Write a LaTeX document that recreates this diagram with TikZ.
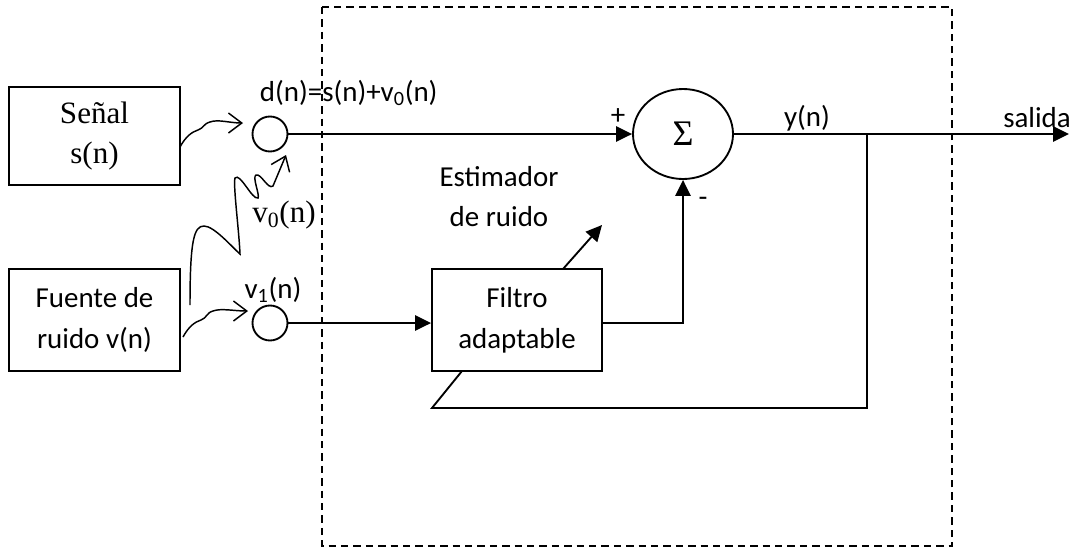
\documentclass[tikz,border=0pt]{standalone}
\usepackage{fontspec}
\setmainfont{Carlito}
\newfontfamily\serifrm{Liberation Serif}
\usetikzlibrary{arrows.meta,shapes.geometric}

\tikzset{
  bloque/.style={draw,inner sep=0pt,align=center,font=\fontsize{21.7}{30.5}\selectfont},
  nodo/.style={draw,circle,inner sep=0pt,minimum size=26.25pt},
  etiq/.style={inner sep=0pt,font=\fontsize{21.7}{30}\selectfont},
  ondas/.style={-{Straight Barb[length=10pt,width=15pt]},line width=1.1pt},
}

\begin{document}
\begin{tikzpicture}[x=0.75pt,y=-0.75pt,line width=1.4pt,>={Triangle[length=12pt,width=11.5pt]}]
\useasboundingbox (0,0) rectangle (1070,550);
% ---------- recuadro punteado ----------
\draw[line width=1.3pt,dash pattern=on 5.5pt off 3.8pt] (322,7) rectangle (952,546);
% ---------- fuentes ----------
\node[bloque,minimum width=128.25pt,minimum height=73.5pt,font=\serifrm\fontsize{23.3}{30}\selectfont] (senal) at (94.5,136) {Señal\\s(n)};
\node[bloque,minimum width=128.25pt,minimum height=76.5pt] (fuente) at (94.5,320) {Fuente de\\ruido v(n)};
% sensores
\node[nodo] (c0) at (270,134) {};
\node[nodo] (c1) at (270,323) {};
\node[etiq,anchor=west] (dlab) at (259,93) {d(n)=s(n)+v\textsubscript{0}(n)};
\node[etiq] (v1lab) at (273,290) {v\textsubscript{1}(n)};
\node[etiq,font=\serifrm\fontsize{23.3}{28}\selectfont] (v0lab) at (284,215) {v\textsubscript{0}(n)};
% ondas
\draw[ondas] (180,147) .. controls (186,136) and (192,132) .. (198,130)
  .. controls (204,128) and (203,124) .. (210,122)
  .. controls (218,119) and (230,123) .. (243,123);
\draw[ondas] (183,337) .. controls (189,326) and (195,322) .. (201,320)
  .. controls (207,318) and (206,313) .. (213,311)
  .. controls (221,308) and (234,311) .. (248,311);
\draw[ondas] (190,305) .. controls (190,240) and (194,226) .. (204,226)
  .. controls (214,226) and (232,247) .. (240,254)
  .. controls (239,230) and (233,185) .. (235,178)
  .. controls (240,172) and (252,200) .. (258,198)
  .. controls (260,195) and (252,177) .. (256,175)
  .. controls (261,173) and (268,190) .. (273,186)
  -- (286,155);
% ---------- sumador y filtro ----------
\node[draw,ellipse,inner sep=0pt,minimum width=75pt,minimum height=67.5pt,font=\serifrm\fontsize{27}{27}\selectfont] (suma) at (683,134) {Σ};
\node[bloque,minimum width=127.5pt,minimum height=76.5pt] (filtro) at (517,320) {Filtro\\adaptable};
\node[etiq,align=center] (estim) at (499,197) {Estimador\\de ruido};
\node[etiq] (mas) at (618,117) {+};
\node[etiq] (menos) at (703,202) {-};
\node[etiq] (ylab) at (807,118) {y(n)};
\node[etiq] (salida) at (1037,118) {salida};
\coordinate (fin) at (1069,134);
\coordinate (j) at (867,134);
\coordinate (fbA) at (432,408);
\coordinate (fbB) at (462,371);
\coordinate (ajA) at (563,269);
\coordinate (ajB) at (602,225);
% conexiones
\draw[->] (c0.east) -- (suma.west);
\draw[->] (c1.east) -- (c1.east -| filtro.west);
\draw[->] (c1.east -| filtro.east) -| (suma.south);
\draw[->] (suma.east) -- (fin);
\draw (j) |- (fbA) -- (fbB);
\draw[->] (ajA) -- (ajB);
\end{tikzpicture}
\end{document}
